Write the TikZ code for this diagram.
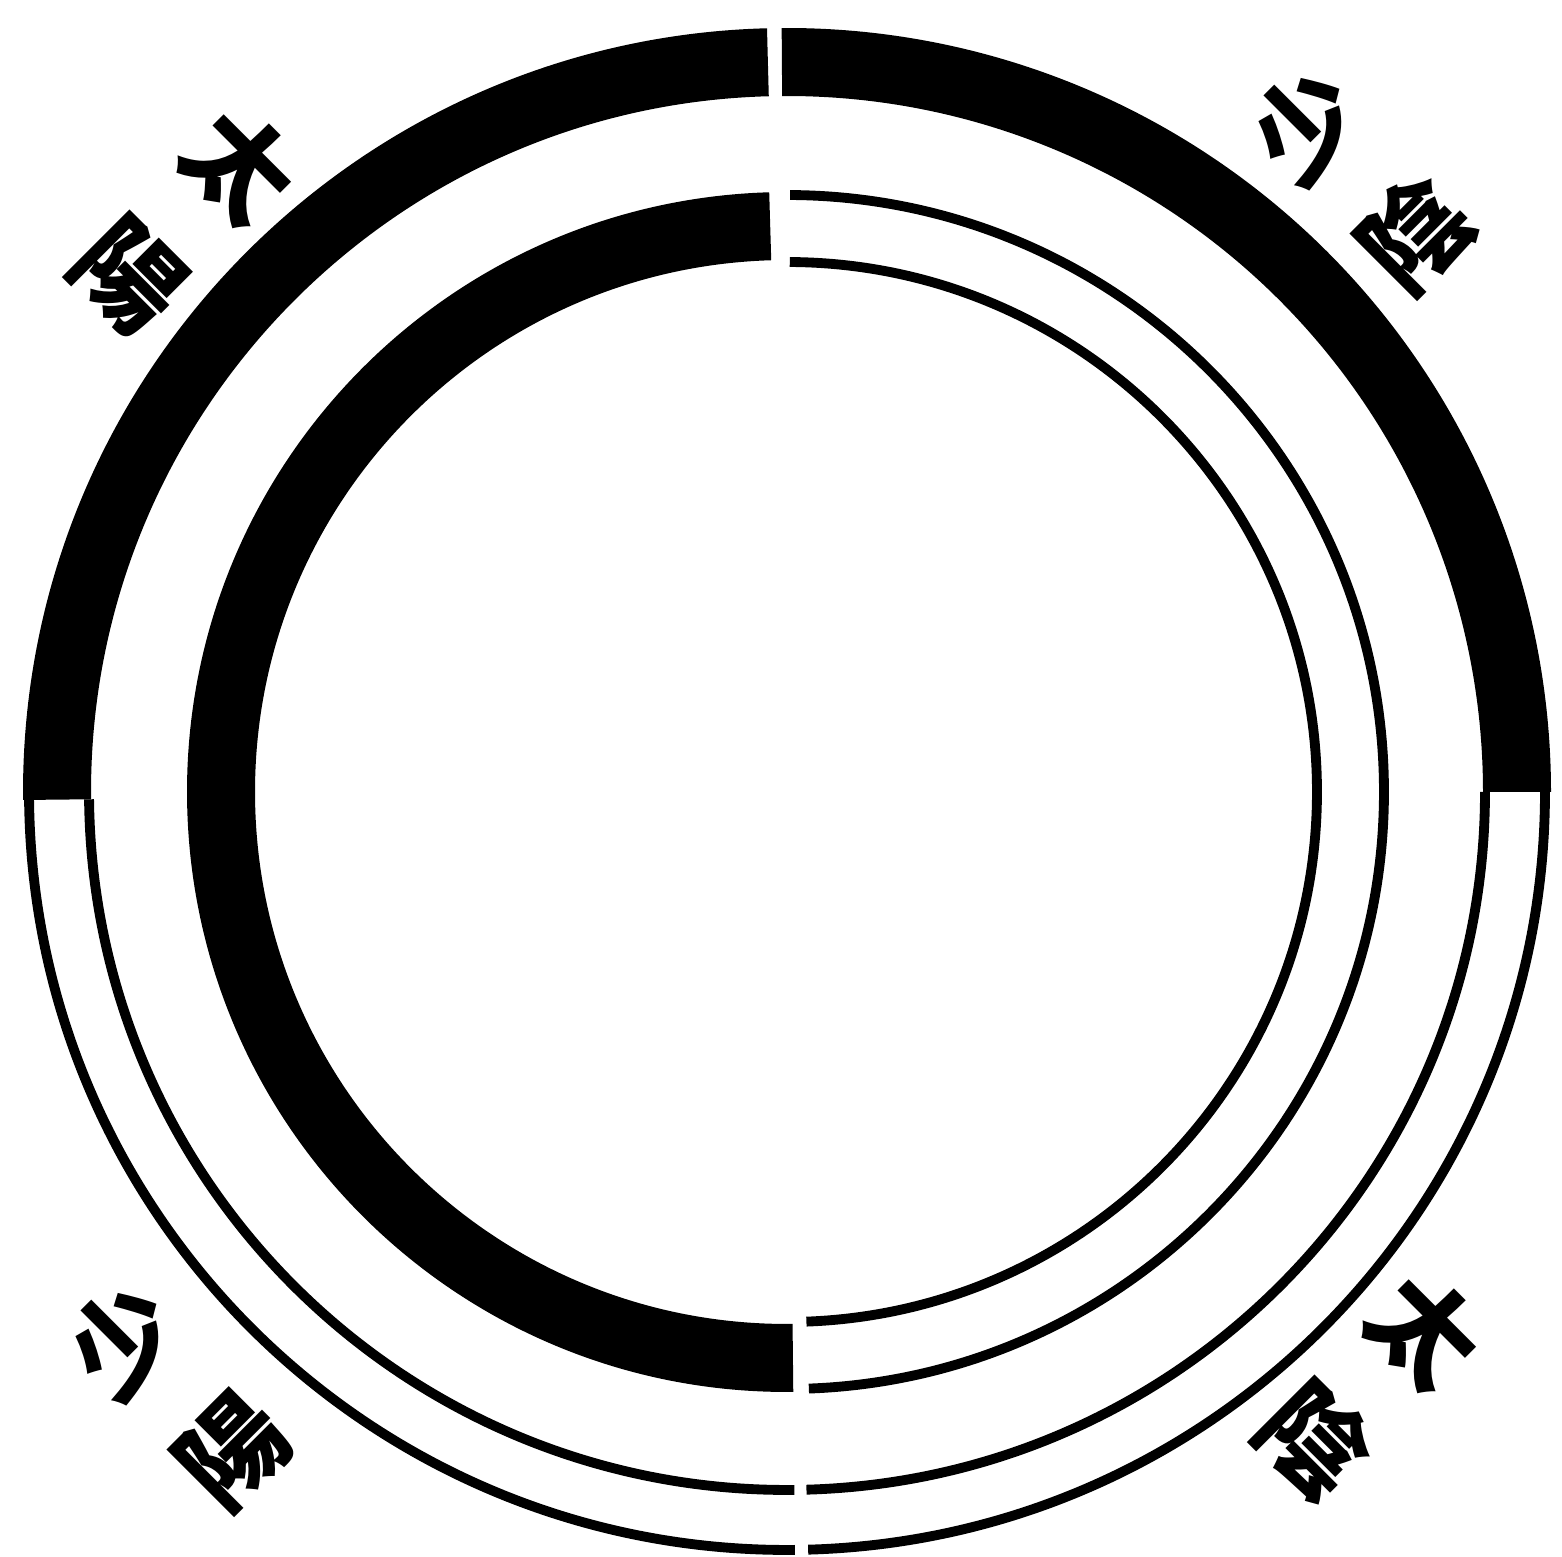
\documentclass[tikz,border=0pt]{standalone}
\usepackage{fontspec}
\newfontfamily\cjk{Noto Sans CJK TC}
\tikzset{
	ringline/.style={line width=2.8pt},
	glyph/.style={font=\cjk\bfseries\fontsize{30}{44}\selectfont, align=center, inner sep=0pt}
}
\begin{document}
\begin{tikzpicture}[thick]
	\useasboundingbox (-7.87, -7.65) rectangle (7.75, 7.92);
	% outer ring: black upper half, open lower half
	\fill[black] (0:7.64) arc(0:90.4:7.64) -- (90.4:6.96) arc(90.4:0:6.96) -- cycle;
	\fill[black] (91.5:7.64) arc(91.5:180.6:7.64) -- (180.6:6.96) arc(180.6:91.5:6.96) -- cycle;
	\draw[ringline] (180.6:7.58) arc(180.6:270.6:7.58);
	\draw[ringline] (180.6:6.98) arc(180.6:270.6:6.98);
	\draw[ringline] (271.6:7.58) arc(271.6:360:7.58);
	\draw[ringline] (271.6:6.98) arc(271.6:360:6.98);
	% inner ring: black left half, open right half
	\fill[black] (91.7:6.0) arc(91.7:270.6:6.0) -- (270.6:5.32) arc(270.6:91.7:5.32) -- cycle;
	\draw[ringline] (89.7:5.97) arc(89.7:-87.9:5.97);
	\draw[ringline] (89.7:5.3) arc(89.7:-87.9:5.3);
	% labels
	\node[glyph, rotate=-45] (lblTaiYang) at (-6.02, 5.72) {太\\陽};
	\node[glyph, rotate=45] (lblShaoYin) at (5.73, 6.12) {少\\陰};
	\node[glyph, rotate=45] (lblShaoYang) at (-6.1, -6.03) {少\\陽};
	\node[glyph, rotate=-45] (lblTaiYin) at (5.83, -5.93) {太\\陰};
\end{tikzpicture}
\end{document}
